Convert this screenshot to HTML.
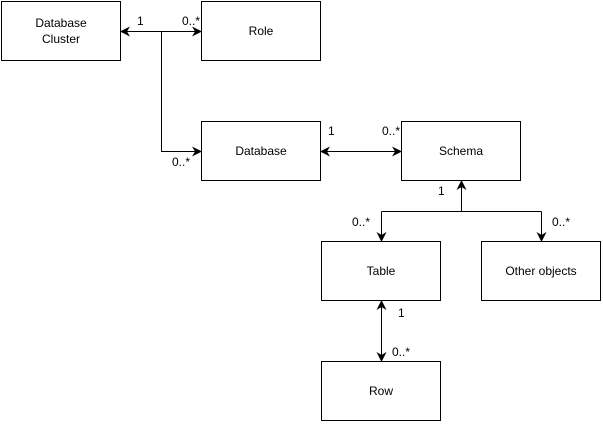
<!DOCTYPE html>
<html><head><style>body{margin:0;background:#fff}svg{display:block}text{font-family:"Liberation Sans",Arial,sans-serif;font-size:12px;fill:#000}</style></head>
<body>
<svg width="603" height="424" viewBox="0 0 603 424" xmlns="http://www.w3.org/2000/svg">
<defs>
<marker id="a" viewBox="0 0 10 10" refX="9" refY="5" markerWidth="10" markerHeight="10" markerUnits="userSpaceOnUse" orient="auto-start-reverse">
<path d="M0,0 L10,5 L0,10 L3,5 Z" fill="#000"/></marker>
</defs>
<g fill="#fff" stroke="#000" stroke-width="1">
<rect x="1.5" y="1.5" width="119" height="59"/>
<rect x="201.5" y="1.5" width="119" height="59"/>
<rect x="201.5" y="121.5" width="119" height="59"/>
<rect x="401.5" y="121.5" width="119" height="59"/>
<rect x="321.5" y="241.5" width="119" height="59"/>
<rect x="481.5" y="241.5" width="119" height="59"/>
<rect x="321.5" y="361.5" width="119" height="59"/>
</g>
<g fill="none" stroke="#000" stroke-width="1">
<path d="M121,31.5 L201,31.5" marker-start="url(#a)" marker-end="url(#a)"/>
<path d="M161.5,31.5 L161.5,151.5 L201,151.5" marker-end="url(#a)"/>
<path d="M321,151.5 L401,151.5" marker-start="url(#a)" marker-end="url(#a)"/>
<path d="M461.5,181 L461.5,211.5" marker-start="url(#a)"/>
<path d="M381.5,211.5 L541.5,211.5"/>
<path d="M381.5,211.5 L381.5,241" marker-end="url(#a)"/>
<path d="M541.5,211.5 L541.5,241" marker-end="url(#a)"/>
<path d="M381.5,301 L381.5,361" marker-start="url(#a)" marker-end="url(#a)"/>
</g>
<g text-anchor="middle">
<text x="61" y="27">Database</text><text x="61" y="43">Cluster</text>
<text x="261" y="35">Role</text>
<text x="261" y="155">Database</text>
<text x="461" y="155">Schema</text>
<text x="381" y="275">Table</text>
<text x="541" y="275">Other objects</text>
<text x="381" y="395">Row</text>
</g>
<text x="137" y="25">1</text>
<text x="182" y="25">0..*</text>
<text x="172" y="166">0..*</text>
<text x="328" y="135">1</text>
<text x="382" y="135">0..*</text>
<text x="438" y="195">1</text>
<text x="352" y="226">0..*</text>
<text x="552" y="226">0..*</text>
<text x="398" y="317">1</text>
<text x="392" y="356">0..*</text>
</svg>
</body></html>
